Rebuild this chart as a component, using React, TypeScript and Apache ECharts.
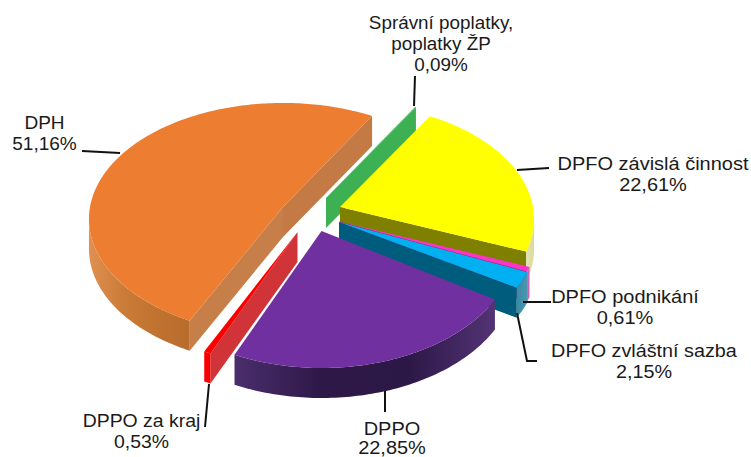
import React, { useEffect, useRef } from "react";
import * as echarts from "echarts";

const sliceNames = ["DPFO závislá činnost", "DPFO podnikání", "DPFO zvláštní sazba", "DPPO", "DPPO za kraj", "DPH", "Správní poplatky,\npoplatky ŽP"];
const sliceValues = [22.61, 0.61, 2.15, 22.85, 0.53, 51.16, 0.09];
const sliceShownValues = ["22,61%", "0,61%", "2,15%", "22,85%", "0,53%", "51,16%", "0,09%"];
const topColors = ["#FFFF00", "#FF33CC", "#00B0F0", "#7030A0", "#FF0000", "#ED7D31", "#3DB054"];
const cutColors = ["#7F7F00", "#A02090", "#005C7C", "#3A1C5C", "#D13438", "#C77F4A", "#3DB054"];
const rimStops = [
  ["#E4E4B0", "#D8D8A0"],
  ["#D070C0", "#C060B0"],
  ["#3A8AA4", "#4A98B0"],
  ["#4A2E6C", "#2E1848", "#2C1846", "#533375"],
  ["#FF0000", "#F00000"],
  ["#E09050", "#CB7C38", "#C07230", "#B86C2C"],
  ["#3DB054", "#3DB054"],
];
// layout of the exploded slices: apex on screen, scale from perspective, stacking order
const apexX = [340, 339.5, 339, 321.5, 297.5, 283, 326];
const apexY = [207, 221.5, 222, 231, 232, 207, 198];
const sliceScaleX = [1, 1.02, 1.025, 1, 1, 1, 1];
const sliceScaleY = [1, 1.02, 1.025, 1.07, 1.05, 1, 1];
const stackOrder = [3, 4, 5, 7, 6, 1, 2];
const startAngle = 30.5;
const radiusX = 193;
const radiusY = 114.8;
const perspective = 0.1034;
const depth = 30;
const silhouetteFrom = 95.9;
const silhouetteTo = 264.1;

const labelX = [653, 625, 644, 392, 141.5, 44.5, 441];
const labelY = [153, 286, 340, 419, 410, 112, 12];
const labelStretch = [1.08, 1.08, 1.07, 1.08, 1.05, 1.03, 1.02];
const labelLine = [21, 21, 21, 19, 21, 21, 21];
const leaders = [
  [[517, 170], [549, 168]],
  [[523, 302], [551, 302]],
  [[517, 313], [527, 361], [537, 361]],
  [[385, 391], [385, 412]],
  [[209, 384], [205, 427]],
  [[82, 151], [120, 153]],
  [[415, 76], [414, 106]],
];

const total = sliceValues.reduce((a, b) => a + b, 0);

function project(i: number, deg: number, drop = 0): number[] {
  const t = (deg * Math.PI) / 180;
  const w = 1 + perspective * Math.cos(t);
  return [
    apexX[i] + (sliceScaleX[i] * radiusX * Math.sin(t)) / w,
    apexY[i] - (sliceScaleY[i] * radiusY * Math.cos(t)) / w + drop,
  ];
}

function arc(i: number, a: number, b: number, drop = 0): number[][] {
  const n = Math.max(2, Math.ceil(Math.abs(b - a)));
  const pts: number[][] = [];
  for (let k = 0; k <= n; k++) pts.push(project(i, a + ((b - a) * k) / n, drop));
  return pts;
}

function renderSlice(params: any, api: any) {
  const i = params.dataIndex;
  let before = 0;
  for (let k = 0; k < i; k++) before += sliceValues[k];
  const a0 = startAngle + (before / total) * 360;
  const a1 = a0 + ((api.value(0) as number) / total) * 360;
  const base = stackOrder[i] * 10;
  const apex = [apexX[i], apexY[i]];
  const apexLow = [apexX[i], apexY[i] + depth];
  const children: any[] = [];
  const rad = (d: number) => (d * Math.PI) / 180;

  // cut faces that look towards the viewer
  if (Math.cos(rad(a0 - 90)) < 0) {
    const p = project(i, a0);
    const q = project(i, a0, depth);
    children.push({ type: "polygon", z2: base + 1, shape: { points: [apex, p, q, apexLow] }, style: { fill: cutColors[i] } });
  }
  if (Math.cos(rad(a1 + 90)) < 0) {
    const p = project(i, a1);
    const q = project(i, a1, depth);
    children.push({ type: "polygon", z2: base + 1, shape: { points: [apex, p, q, apexLow] }, style: { fill: i === 5 ? "#C47A45" : cutColors[i] } });
  }

  // outer rim: only the part in front of the silhouette
  const lo = Math.max(a0, silhouetteFrom);
  const hi = Math.min(a1, silhouetteTo);
  if (hi > lo) {
    const rimPts = arc(i, lo, hi).concat(arc(i, lo, hi, depth).reverse());
    const stops = rimStops[i];
    const rimFill = new echarts.graphic.LinearGradient(
      0, 0, 1, 0,
      stops.map((color, k) => ({ offset: k / (stops.length - 1), color })),
      false
    );
    children.push({ type: "polygon", z2: base + 2, shape: { points: rimPts }, style: { fill: rimFill } });
  }

  // top face
  children.push({
    type: "polygon",
    z2: base + 3,
    shape: { points: [apex, ...arc(i, a0, a1)] },
    style: { fill: topColors[i] },
  });

  // leader
  children.push({
    type: "polyline",
    z2: 200,
    shape: { points: leaders[i] },
    style: { stroke: "#111111", lineWidth: 2, fill: "none" },
  });

  // label
  children.push({
    type: "text",
    z2: 201,
    x: labelX[i],
    y: labelY[i],
    scaleX: labelStretch[i],
    style: {
      text: `${sliceNames[i]}\n${sliceShownValues[i]}`,
      font: '18.5px "Liberation Sans", Arial, sans-serif',
      fill: "#1a1a1a",
      align: "center",
      verticalAlign: "top",
      lineHeight: labelLine[i],
    },
  });

  return { type: "group", children };
}

export default function App() {
  const ref = useRef<HTMLDivElement>(null);
  useEffect(() => {
    const chart = echarts.init(ref.current!, undefined, { renderer: "svg" });
    chart.setOption({
      animation: false,
      backgroundColor: "#ffffff",
      series: [
        {
          type: "custom",
          coordinateSystem: "none",
          silent: true,
          renderItem: renderSlice,
          data: sliceValues.map((value, k) => ({ name: sliceNames[k], value: [value] })),
        },
      ],
    });
    return () => chart.dispose();
  }, []);
  return <div ref={ref} style={{ position: "fixed", left: 0, top: 0, width: 751, height: 457 }} />;
}
